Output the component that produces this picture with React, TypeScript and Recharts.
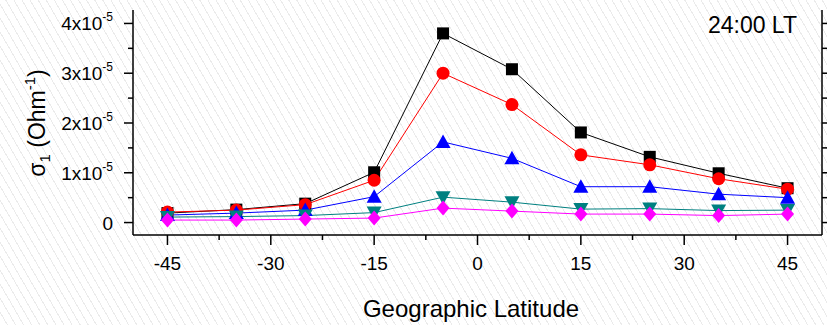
import { LineChart, Line, XAxis, YAxis } from "recharts";

document.body.style.margin = "0";

const FONT = "'Liberation Sans', Arial, sans-serif";

// latitude of each station
const latitudes = [-45, -35, -25, -15, -5, 5, 15, 25, 35, 45];
// sigma1 in units of 1e-5 Ohm^-1
const squares = [0.19, 0.26, 0.38, 1.01, 3.8, 3.08, 1.81, 1.32, 0.99, 0.69];
const circles = [0.21, 0.25, 0.36, 0.85, 3.0, 2.37, 1.36, 1.16, 0.88, 0.67];
const upTriangles = [0.15, 0.19, 0.25, 0.52, 1.62, 1.29, 0.72, 0.72, 0.57, 0.5];
const downTriangles = [0.11, 0.12, 0.14, 0.2, 0.51, 0.41, 0.27, 0.28, 0.24, 0.25];
const diamonds = [0.05, 0.05, 0.07, 0.09, 0.29, 0.23, 0.17, 0.17, 0.14, 0.17];

const xTicks = [-45, -37.5, -30, -22.5, -15, -7.5, 0, 7.5, 15, 22.5, 30, 37.5, 45];
const xLabels = [-45, -30, -15, 0, 15, 30, 45];
const yTicks = [0, 0.5, 1, 1.5, 2, 2.5, 3, 3.5, 4];
const yLabels = [0, 1, 2, 3, 4];

const data = latitudes.map((lat, i) => ({
  lat,
  sq: squares[i],
  ci: circles[i],
  up: upTriangles[i],
  dn: downTriangles[i],
  di: diamonds[i],
}));

type Shape = "square" | "circle" | "up" | "down" | "diamond";

function Marker({ cx, cy, shape, color }: { cx: number; cy: number; shape: Shape; color: string }) {
  if (cx == null || cy == null) return null;
  if (shape === "square") return <rect x={cx - 6} y={cy - 6} width={12} height={12} fill={color} />;
  if (shape === "circle") return <circle cx={cx} cy={cy} r={6.5} fill={color} />;
  if (shape === "up")
    return <polygon points={`${cx},${cy - 7.5} ${cx - 7.5},${cy + 6} ${cx + 7.5},${cy + 6}`} fill={color} />;
  if (shape === "down")
    return <polygon points={`${cx},${cy + 7.5} ${cx - 7.5},${cy - 6} ${cx + 7.5},${cy - 6}`} fill={color} />;
  return <polygon points={`${cx},${cy - 7.5} ${cx + 6.5},${cy} ${cx},${cy + 7.5} ${cx - 6.5},${cy}`} fill={color} />;
}

const dot = (shape: Shape, color: string) => (p: any) =>
  <Marker key={`${shape}-${p.index}`} cx={p.cx} cy={p.cy} shape={shape} color={color} />;

function BottomTick({ x, y, payload }: any) {
  const major = xLabels.includes(payload.value);
  return (
    <g>
      <line x1={x} x2={x} y1={y} y2={y + (major ? 10 : 5)} stroke="#000" strokeWidth={1.5} />
      {major && (
        <text x={x} y={y + 35} textAnchor="middle" fontSize={19} fontFamily={FONT} fill="#000">
          {payload.value}
        </text>
      )}
    </g>
  );
}

function TopTick({ x, y }: any) {
  return <line x1={x} x2={x} y1={y} y2={y - 10} stroke="#000" strokeWidth={1.5} />;
}

function LeftTick({ x, y, payload }: any) {
  const v = payload.value;
  const major = yLabels.includes(v);
  return (
    <g>
      <line x1={x} x2={x - (major ? 9 : 5)} y1={y} y2={y} stroke="#000" strokeWidth={1.5} />
      {major && (
        <text x={x - 20} y={y + 7} textAnchor="end" fontSize={19} fontFamily={FONT} fill="#000">
          {v === 0 ? (
            "0"
          ) : (
            <>
              {`${v}x10`}
              <tspan fontSize={12} dy={-9}>
                -5
              </tspan>
            </>
          )}
        </text>
      )}
    </g>
  );
}

function RightTick({ x, y }: any) {
  return <line x1={x} x2={x + 5} y1={y} y2={y} stroke="#000" strokeWidth={1.5} />;
}

const axisLine = { stroke: "#000", strokeWidth: 1.5 };

export default function App() {
  return (
    <div
      style={{
        position: "relative",
        width: 827,
        height: 325,
        background: "repeating-linear-gradient(60deg, #fff 0px, #fff 6px, #ebebeb 6px, #ebebeb 7px)",
        fontFamily: FONT,
      }}
    >
      <LineChart width={827} height={325} data={data} margin={{ top: 10, right: 0, bottom: 0, left: 0 }}>
        <XAxis
          xAxisId="bottom"
          dataKey="lat"
          type="number"
          domain={[-50, 50]}
          allowDataOverflow
          ticks={xTicks}
          interval={0}
          height={90}
          tickSize={0}
          tickMargin={0}
          tickLine={false}
          axisLine={axisLine}
          tick={<BottomTick />}
        />
        <XAxis
          xAxisId="top"
          orientation="top"
          dataKey="lat"
          type="number"
          domain={[-50, 50]}
          allowDataOverflow
          ticks={xTicks}
          interval={0}
          height={0}
          tickSize={0}
          tickMargin={0}
          tickLine={false}
          axisLine={axisLine}
          tick={<TopTick />}
        />
        <YAxis
          yAxisId="left"
          type="number"
          domain={[-0.25, 4.27]}
          allowDataOverflow
          ticks={yTicks}
          interval={0}
          width={133}
          tickSize={0}
          tickMargin={0}
          tickLine={false}
          axisLine={axisLine}
          tick={<LeftTick />}
        />
        <YAxis
          yAxisId="right"
          orientation="right"
          type="number"
          domain={[-0.25, 4.27]}
          allowDataOverflow
          ticks={yTicks}
          interval={0}
          width={5}
          tickSize={0}
          tickMargin={0}
          tickLine={false}
          axisLine={axisLine}
          tick={<RightTick />}
        />
        <Line xAxisId="bottom" yAxisId="left" dataKey="sq" stroke="#000000" strokeWidth={1} dot={dot("square", "#000000")} activeDot={false} isAnimationActive={false} />
        <Line xAxisId="bottom" yAxisId="left" dataKey="ci" stroke="#ff0000" strokeWidth={1} dot={dot("circle", "#ff0000")} activeDot={false} isAnimationActive={false} />
        <Line xAxisId="bottom" yAxisId="left" dataKey="up" stroke="#0000ff" strokeWidth={1} dot={dot("up", "#0000ff")} activeDot={false} isAnimationActive={false} />
        <Line xAxisId="bottom" yAxisId="left" dataKey="dn" stroke="#008080" strokeWidth={1} dot={dot("down", "#008080")} activeDot={false} isAnimationActive={false} />
        <Line xAxisId="bottom" yAxisId="left" dataKey="di" stroke="#ff00ff" strokeWidth={1} dot={dot("diamond", "#ff00ff")} activeDot={false} isAnimationActive={false} />
      </LineChart>
      <svg width={827} height={325} style={{ position: "absolute", left: 0, top: 0, pointerEvents: "none" }}>
        <text x={797} y={33} textAnchor="end" fontSize={23} fontFamily={FONT} fill="#000">
          24:00 LT
        </text>
        <text x={471} y={317} textAnchor="middle" fontSize={24} fontFamily={FONT} fill="#000">
          Geographic Latitude
        </text>
        <text transform="translate(45,123) rotate(-90)" textAnchor="middle" fontSize={23} fontFamily={FONT} fill="#000">
          σ
          <tspan fontSize={15} dy={5}>
            1
          </tspan>
          <tspan dy={-5}> (Ohm</tspan>
          <tspan fontSize={15} dy={-10}>
            -1
          </tspan>
          <tspan dy={10}>)</tspan>
        </text>
      </svg>
    </div>
  );
}
